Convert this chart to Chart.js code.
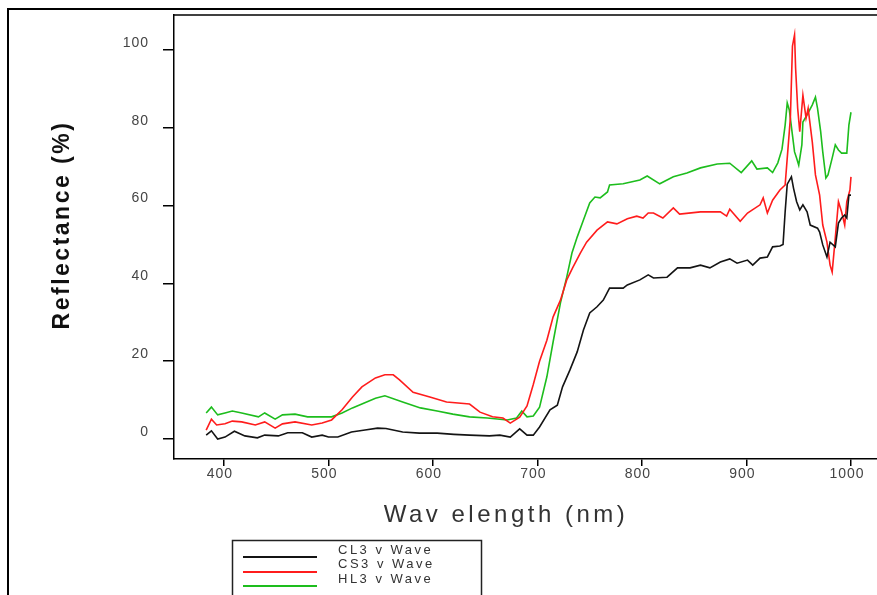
<!DOCTYPE html>
<html lang="en">
<head>
<meta charset="UTF-8">
<title>Reflectance vs Wavelength</title>
<script src="https://cdn.jsdelivr.net/npm/chart.js"></script>
<style>
  body { margin:0; background:#fff; }
  #wrap { position:relative; width:877px; height:595px; }
</style>
</head>
<body>
<div id="wrap"><canvas id="spectra" width="877" height="595"></canvas></div>
<script>
  // Spectra (wavelength nm, reflectance %)
  const cl3Wave = [383,388,394,401,410,420,432,439,452,461,475,484,494,500,509,522,535,547,555,571,587,604,620,635,654,664,674,683,690,696,702,712,719,724,731,738,744,750,757,763,769,782,786,798,806,811,824,834,846,856,865,875,884,891,901,906,913,920,925,932,935,937,939,943,945,948,951,954,958,961,968,970,973,977,980,985,988,991,994,996,998,1000];
  const cl3Refl = [1.0,2.1,0,0.5,2.0,0.8,0.3,1.0,0.8,1.6,1.6,0.5,1.0,0.5,0.5,1.8,2.3,2.8,2.7,1.8,1.5,1.5,1.2,1.0,0.8,1.0,0.5,2.6,1.0,1.0,3.1,7.5,8.7,13.4,17.7,22.4,28,32.4,34,35.7,38.8,38.8,39.6,40.9,42.2,41.4,41.6,44,44,44.7,44,45.5,46.3,45.2,46,44.7,46.5,46.8,49.4,49.6,50,58.4,65.5,67.4,64.5,61,58.9,60.2,58.4,55,54.2,53.2,49.9,46.8,50.6,49.4,55.5,56.8,57.6,56.8,62.7,62.7];

  const cs3Wave = [383,388,393,401,408,417,430,439,449,456,468,484,494,503,513,523,532,545,554,562,568,581,597,613,635,645,657,667,674,683,690,696,702,709,715,722,728,734,741,747,757,767,776,786,795,801,806,811,820,830,836,856,875,881,884,894,901,913,916,920,925,932,937,942,944,946,947,949,951,954,957,959,963,966,970,973,977,980,982,985,988,991,994,996,999,1000];
  const cs3Refl = [2.3,5.1,3.6,3.9,4.6,4.4,3.6,4.4,2.8,3.9,4.4,3.6,4.1,4.9,7.5,10.8,13.4,15.7,16.5,16.5,15.2,12,10.8,9.5,9,6.9,5.7,5.4,4.1,5.6,8.5,14,20,25.4,31.4,35.7,40.9,44.2,47.8,50.6,53.7,55.8,55.3,56.6,57.3,56.8,58.1,58.1,56.8,59.4,57.8,58.4,58.4,57.3,59.1,56,58.1,60.2,62,58.1,61.4,64,65.3,82.5,101,103.9,95.4,85,79,88.4,82.5,85,76.3,67.9,62.7,55,50.6,44.7,42.9,51.7,61,58.4,55,61,64,67.4];

  const hl3Wave = [383,388,394,401,408,417,433,439,449,456,468,480,503,513,523,532,545,554,571,588,604,619,635,652,671,680,685,690,696,702,709,715,722,728,733,738,744,750,755,760,767,769,782,798,805,817,830,843,856,872,884,895,905,910,920,925,930,934,937,939,941,944,946,948,950,953,954,958,963,966,968,971,973,976,978,982,985,988,991,996,998,1000];
  const hl3Refl = [6.7,8.2,6.2,6.7,7.2,6.7,5.7,6.7,5.1,6.2,6.4,5.7,5.7,6.7,8.0,9.0,10.5,11.1,9.5,8.0,7.2,6.4,5.7,5.4,4.9,5.4,7.2,5.7,5.9,8.2,16,25,35,41.6,47.8,51.9,56.3,60.7,62.2,62,63.5,65.3,65.6,66.6,67.6,65.6,67.4,68.4,69.7,70.7,70.9,68.5,71.5,69.4,69.7,68.5,71,74.5,80.7,86.4,84.6,78.1,73.8,72.2,70.4,75.6,81.5,83.3,85.9,87.9,85,79,73.8,67.1,67.9,72.2,75.6,74.3,73.5,73.5,80.7,84];

  const xTicks = [400,500,600,700,800,900,1000];
  const yTicks = [0,20,40,60,80,100];
  const seriesNames = ["CL3 v Wave","CS3 v Wave","HL3 v Wave"];
  const seriesColors = ["#141414","#ff1c1c","#1dbd1d"];

  const toPoints = (w, r) => w.map((x, i) => ({x: x, y: r[i]}));

  // frame, axis titles and legend box drawn by hand
  const framePlugin = {
    id: "frame",
    beforeDraw(chart) { chart.ctx.letterSpacing = "1px"; },
    afterDraw(chart) {
      const ctx = chart.ctx, a = chart.chartArea;
      ctx.save();
      ctx.strokeStyle = "#000";
      ctx.lineWidth = 2;
      ctx.beginPath(); ctx.moveTo(8, 595); ctx.lineTo(8, 9); ctx.lineTo(877, 9); ctx.stroke();
      ctx.lineWidth = 1.5;
      ctx.beginPath(); ctx.moveTo(a.left, a.top); ctx.lineTo(a.right, a.top); ctx.stroke();

      // y title
      ctx.save();
      ctx.translate(63, 225);
      ctx.rotate(-Math.PI / 2);
      ctx.letterSpacing = "2.5px";
      ctx.font = "bold 23px 'Liberation Sans', Arial, sans-serif";
      ctx.fillStyle = "#111";
      ctx.textAlign = "center";
      ctx.textBaseline = "middle";
      ctx.fillText("Reflectance (%)", 0, 0);
      ctx.restore();

      // x title
      ctx.letterSpacing = "3.5px";
      ctx.font = "24px 'Liberation Sans', Arial, sans-serif";
      ctx.fillStyle = "#333";
      ctx.textAlign = "center";
      ctx.textBaseline = "middle";
      ctx.fillText("Wav elength (nm)", 506, 515);

      // legend
      ctx.strokeStyle = "#222";
      ctx.lineWidth = 1.5;
      ctx.strokeRect(232.5, 540.5, 249, 80);
      ctx.letterSpacing = "2.5px";
      ctx.font = "13px 'Liberation Sans', Arial, sans-serif";
      ctx.textAlign = "left";
      const lineY = [557, 572, 586];
      const textY = [550, 564, 579];
      seriesNames.forEach((n, i) => {
        ctx.strokeStyle = seriesColors[i];
        ctx.lineWidth = 2;
        ctx.beginPath(); ctx.moveTo(243, lineY[i]); ctx.lineTo(317, lineY[i]); ctx.stroke();
        ctx.fillStyle = "#333";
        ctx.fillText(n, 338, textY[i]);
      });
      ctx.restore();
    }
  };

  new Chart(document.getElementById("spectra"), {
    type: "line",
    data: {
      datasets: [
        {label: seriesNames[0], data: toPoints(cl3Wave, cl3Refl), borderColor: seriesColors[0]},
        {label: seriesNames[1], data: toPoints(cs3Wave, cs3Refl), borderColor: seriesColors[1]},
        {label: seriesNames[2], data: toPoints(hl3Wave, hl3Refl), borderColor: seriesColors[2]}
      ]
    },
    options: {
      responsive: false,
      animation: false,
      layout: {padding: {top: 15, left: 0, right: 0, bottom: 0}},
      elements: {line: {borderWidth: 1.6, tension: 0}, point: {radius: 0}},
      plugins: {legend: {display: false}, tooltip: {enabled: false}},
      scales: {
        x: {
          type: "linear", min: 352.2, max: 1024.9,
          afterBuildTicks: s => { s.ticks = xTicks.map(v => ({value: v})); },
          afterFit: s => { s.height = 136; s.paddingLeft = 0; s.paddingRight = 0; },
          grid: {drawOnChartArea: false, tickLength: 7, color: "#000", lineWidth: 1.5},
          border: {color: "#000", width: 1.5},
          ticks: {color: "#444", font: {family: "'Liberation Sans', Arial", size: 14}, padding: 0, labelOffset: -4, maxRotation: 0, callback: v => String(v)}
        },
        y: {
          min: -5.14, max: 109,
          afterBuildTicks: s => { s.ticks = yTicks.map(v => ({value: v})); },
          afterFit: s => { s.width = 174; s.paddingTop = 0; s.paddingBottom = 0; },
          grid: {drawOnChartArea: false, tickLength: 11, color: "#000", lineWidth: 1.5},
          border: {color: "#000", width: 1.5},
          ticks: {color: "#444", font: {family: "'Liberation Sans', Arial", size: 14}, padding: 14, labelOffset: -7, callback: v => String(v)}
        }
      }
    },
    plugins: [framePlugin]
  });
</script>
</body>
</html>
